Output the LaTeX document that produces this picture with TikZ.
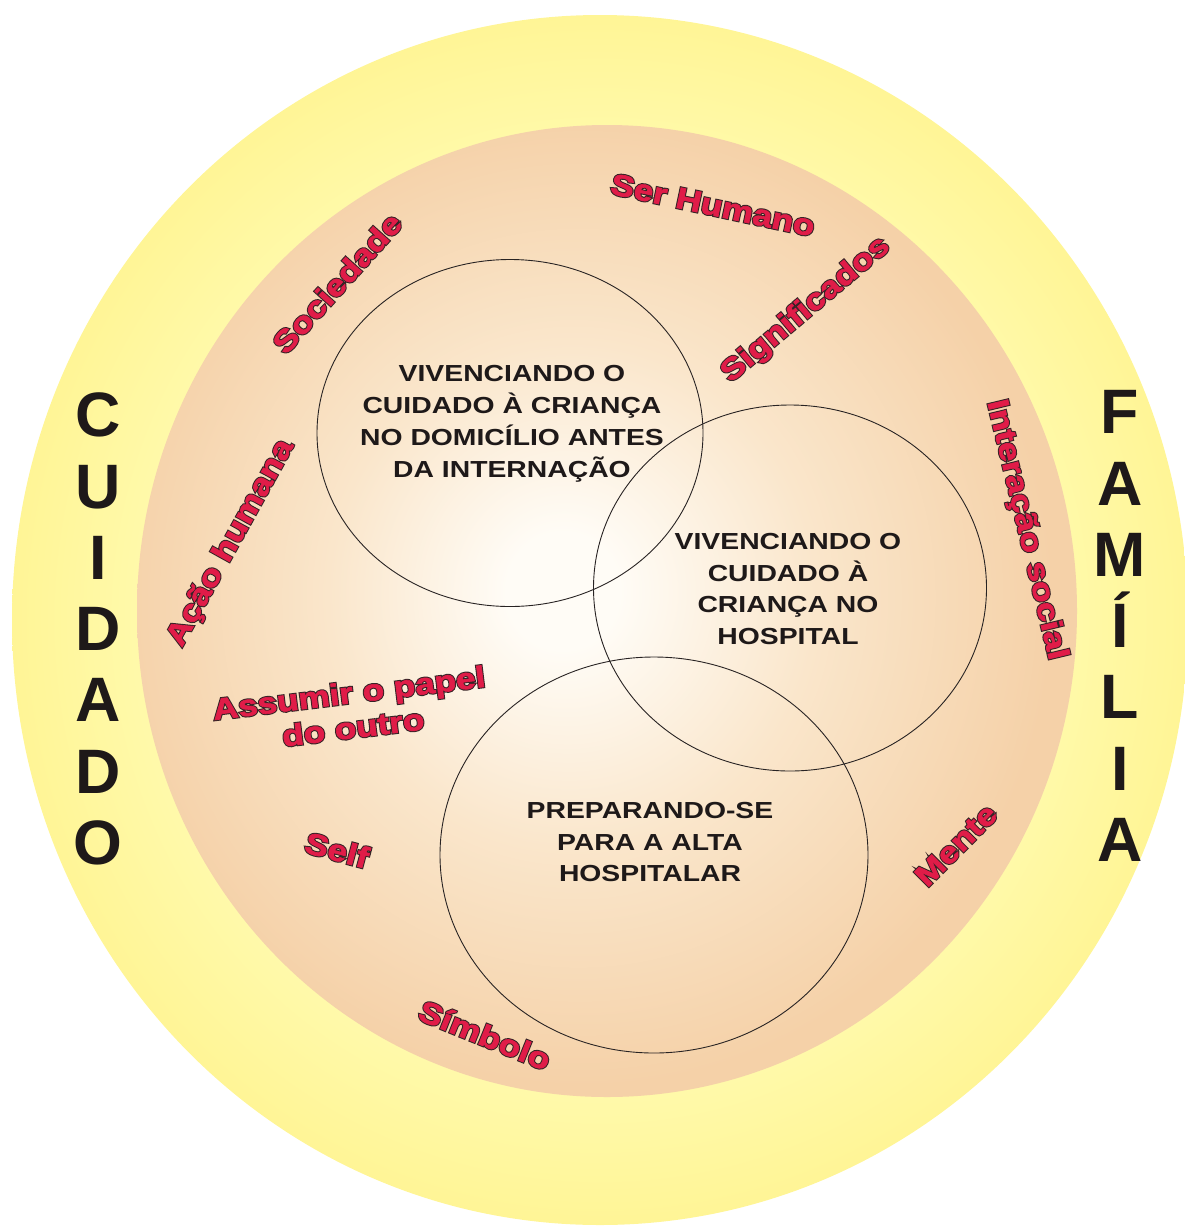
\documentclass[tikz,border=0pt]{standalone}
\usepackage{fontspec}
\setmainfont{Liberation Sans}
\newfontfamily\widesans[FakeStretch=1.22]{Liberation Sans}
% concept labels: crimson face over a stroked, darker copy
\newfontfamily\labelfill[FakeStretch=1.18,FakeBold=2]{Liberation Sans Bold}
\newfontfamily\labelrim[FakeStretch=1.18,FakeBold=9]{Liberation Sans Bold}
\usetikzlibrary{shapes.geometric}

% palette
\definecolor{ringin}{RGB}{255,250,172}
\definecolor{ringout}{RGB}{255,245,150}
\definecolor{peachin}{RGB}{255,252,246}
\definecolor{peachmid}{RGB}{250,230,203}
\definecolor{peachout}{RGB}{245,209,168}
\definecolor{vennline}{RGB}{40,35,35}
\definecolor{inktext}{RGB}{30,25,25}
\definecolor{crimson}{RGB}{224,28,72}
\definecolor{rim}{RGB}{55,35,38}

% outlined word: stroked dark copy underneath, filled face on top
\newcommand\rimmed[1]{%
  \setbox0\hbox{#1}%
  \rlap{\hbox to \wd0{\hss{\labelrim\color{rim}#1}\hss}}\box0}

% soft yellow band and the warm glow inside it
\pgfdeclareradialshading{sunring}{\pgfpoint{0bp}{0bp}}{%
  color(0bp)=(ringin); color(19bp)=(ringin); color(25bp)=(ringout); color(50bp)=(ringout)}
\pgfdeclareradialshading{peachglow}{\pgfpoint{-2.5bp}{1.1bp}}{%
  color(0bp)=(peachin); color(3bp)=(peachin); color(13bp)=(peachmid);
  color(25bp)=(peachout); color(50bp)=(peachout)}

\begin{document}
\begin{tikzpicture}[x=1bp,y=-1bp,
  venn/.style={draw=vennline, line width=0.9bp, ellipse, inner sep=0pt},
  stagetext/.style={font=\widesans\bfseries\fontsize{23.3}{32}\selectfont,
    text=inktext, align=center, inner sep=0pt},
  concept/.style={font=\fontsize{30}{35}\labelfill,
    text=crimson, align=center, inner sep=0pt},
  column/.style={font=\bfseries\fontsize{63}{71.5}\selectfont,
    text=inktext, align=center, inner sep=0pt}
]
\useasboundingbox (0,0) rectangle (1185,1226);

% background discs
\shade[shading=sunring] (600,620) ellipse [x radius=588, y radius=605];
\shade[shading=peachglow] (607,611) ellipse [x radius=470, y radius=486];

% the three stages
\node[venn, minimum width=386bp, minimum height=347bp] (home) at (510,433) {};
\node[venn, minimum width=393bp, minimum height=366bp] (hospital) at (790,588) {};
\node[venn, minimum width=428bp, minimum height=396bp] (discharge) at (654,855) {};

\node[stagetext] (homeText) at (512,423.5)
  {VIVENCIANDO O\\CUIDADO À CRIANÇA\\NO DOMICÍLIO ANTES\\DA INTERNAÇÃO};
\node[stagetext] (hospitalText) at (788,589)
  {VIVENCIANDO O\\CUIDADO À\\CRIANÇA NO\\HOSPITAL};
\node[stagetext] (dischargeText) at (650,842)
  {PREPARANDO-SE\\PARA A ALTA\\HOSPITALAR};

% concepts of symbolic interactionism
\node[concept, rotate=-12] (serHumano) at (713,205) {\rimmed{Ser Humano}};
\node[concept, rotate=40] (significados) at (806,310) {\rimmed{Significados}};
\node[concept, rotate=48] (sociedade) at (337,283) {\rimmed{Sociedade}};
\node[concept, rotate=61] (acaoHumana) at (231,543) {\rimmed{Ação humana}};
\node[concept, rotate=-76.5] (interacao) at (1026,530) {\rimmed{Interação social}};
\node[concept, rotate=7] (papel) at (351,710)
  {\rimmed{Assumir o papel}\\\rimmed{do outro}};
\node[concept, rotate=-15] (self) at (337,850) {\rimmed{Self}};
\node[concept, rotate=45] (mente) at (956,845) {\rimmed{Mente}};
\node[concept, rotate=-22] (simbolo) at (485,1035) {\rimmed{Símbolo}};

% vertical words on the outer band
\node[column] (cuidado) at (98,629) {C\\U\\I\\D\\A\\D\\O};
\node[column] (familia) at (1120,626) {F\\A\\M\\Í\\L\\I\\A};
\end{tikzpicture}
\end{document}
